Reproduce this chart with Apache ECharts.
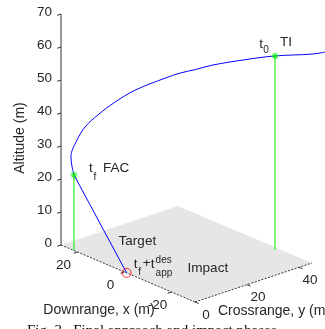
<!DOCTYPE html>
<html>
<head>
<meta charset="utf-8">
<style>
html, body { margin: 0; padding: 0; background: #fff; }
#chart { width: 325px; height: 329px; }
</style>
<script src="https://cdn.jsdelivr.net/npm/echarts@6/dist/echarts.min.js"></script>
</head>
<body>
<div id="chart"></div>
<script>
// axis limits (m)
const xRange = [-30, 27]   // downrange
const yRange = [0, 45]     // crossrange
const zRange = [0, 70]     // altitude
const xTicks = [-20, 0, 20]
const yTicks = [0, 20, 40]
const zTicks = [0, 10, 20, 30, 40, 50, 60, 70]

// trajectory samples
const trajX = [-23.4, -22.2, -15.8, -10.1, -2.8, 0.9, 4.0, 7.1, 13.2, 17.3, 20.7, 23.4, 24.6, 25.0, 23.4, 21.5]
const trajY = [56, 52, 43.6, 38, 31.5, 28, 25, 22, 16, 12, 8.5, 6, 4, 2, 1, 0]
const trajZ = [59.0, 59.1, 58.8, 57.5, 55.3, 53.7, 52.5, 50.8, 46.9, 43.1, 39.1, 35.3, 31.5, 26.8, 24.5, 22.9]

// events [x, y, z]
const ptTI = [-15.8, 43.6, 58.8]
const ptFAC = [21.5, 0, 22.9]
const ptImpact = [-0.9, 0, 0]

// fixed view (orthographic), screen units
const origin = [124.5, 272]
const ex = [-2.351, -1.0]
const ey = [2.6, -0.867]
const ez = [0, -3.30]
const proj = p => [
	origin[0] + ex[0] * p[0] + ey[0] * p[1] + ez[0] * p[2],
	origin[1] + ex[1] * p[0] + ey[1] * p[1] + ez[1] * p[2]
]

const FONT = 'Liberation Sans, Arial, Helvetica, sans-serif'
const TXT = '#262626'

const text = (x, y, str, size, align, valign) => ({
	type: 'text', x: x, y: y,
	style: { text: str, fill: TXT, fontSize: size, fontFamily: FONT, align: align || 'left', verticalAlign: valign || 'middle' }
})
const seg = (a, b, stroke, dash) => ({
	type: 'line',
	shape: { x1: a[0], y1: a[1], x2: b[0], y2: b[1] },
	style: { stroke: stroke, lineWidth: 1, lineDash: dash || null }
})

// annotation texts, offsets in px from the event point
const notes = [
	{ at: ptTI, dx: -14, dy: -12, t: 't', s: 13.5, a: 'center' },
	{ at: ptTI, dx: -9, dy: -6, t: '0', s: 10, a: 'center' },
	{ at: ptTI, dx: 5, dy: -14, t: 'TI', s: 13.5 },
	{ at: ptFAC, dx: 17, dy: -7, t: 't', s: 13.5, a: 'center' },
	{ at: ptFAC, dx: 21, dy: 2, t: 'f', s: 10, a: 'center' },
	{ at: ptFAC, dx: 29, dy: -7, t: 'FAC', s: 13.5 },
	{ at: ptImpact, dx: -8, dy: -32, t: 'Target', s: 13.5 },
	{ at: ptImpact, dx: 61, dy: -5, t: 'Impact', s: 13.5 },
	{ at: ptImpact, dx: 9, dy: -9, t: 't', s: 13.5, a: 'center' },
	{ at: ptImpact, dx: 13, dy: -1, t: 'f', s: 10, a: 'center' },
	{ at: ptImpact, dx: 20, dy: -10, t: '+', s: 13.5, a: 'center' },
	{ at: ptImpact, dx: 26, dy: -9, t: 't', s: 13.5, a: 'center' },
	{ at: ptImpact, dx: 29, dy: -13, t: 'des', s: 10 },
	{ at: ptImpact, dx: 29, dy: 0, t: 'app', s: 10 }
]

const chart = echarts.init(document.getElementById('chart'))

const option = {
	animation: false,
	grid: { left: 0, top: 0, width: 325, height: 329 },
	xAxis: { type: 'value', min: 0, max: 325, show: false },
	yAxis: { type: 'value', min: 0, max: 329, inverse: true, show: false },
	graphic: [
		{ type: 'text', x: 20, y: 138, rotation: Math.PI / 2, style: { text: 'Altitude (m)', fill: TXT, fontSize: 14, fontFamily: FONT, align: 'center', verticalAlign: 'middle' } },
		{ type: 'text', x: 99, y: 310, style: { text: 'Downrange, x (m)', fill: TXT, fontSize: 14, fontFamily: FONT, align: 'center', verticalAlign: 'middle' } },
		{ type: 'text', x: 218, y: 311, style: { text: 'Crossrange, y (m)', fill: TXT, fontSize: 14, fontFamily: FONT, align: 'left', verticalAlign: 'middle' } },
		{ type: 'text', x: 27, y: 324, style: { text: 'Fig. 3.  Final approach and impact phases', fill: '#111', fontSize: 15, fontFamily: 'Liberation Serif, Times New Roman, serif', align: 'left', verticalAlign: 'top' } }
	],
	series: [
		{
			// ground plane
			type: 'custom', data: [0], silent: true, z: 1,
			renderItem: (params, api) => {
				const pts = [
					[xRange[1], yRange[0], 0], [xRange[0], yRange[0], 0],
					[xRange[0], yRange[1], 0], [xRange[1], yRange[1], 0]
				].map(p => api.coord(proj(p)))
				return { type: 'polygon', shape: { points: pts }, style: { fill: '#e6e6e6' } }
			}
		},
		{
			// axes, ticks and tick labels
			type: 'custom', data: [0], silent: true, z: 2,
			renderItem: (params, api) => {
				const c = p => api.coord(proj(p))
				const kids = []
				const corner = [xRange[1], yRange[0], 0]
				kids.push(seg(c(corner), c([xRange[0], yRange[0], 0]), '#333', [2, 1.5]))
				kids.push(seg(c([xRange[0], yRange[0], 0]), c([xRange[0], yRange[1], 0]), '#333', [2, 1.5]))
				kids.push(seg(c(corner), c([xRange[1], yRange[0], zRange[1]]), '#333'))
				zTicks.forEach(v => {
					const a = c([xRange[1], yRange[0], v])
					kids.push(seg(a, c([xRange[1], yRange[0] - 1.5, v]), '#333'))
					kids.push(text(a[0] - 9, a[1] - 1.5, String(v), 13.5, 'right'))
				})
				xTicks.forEach(v => {
					const a = c([v, yRange[0], 0])
					kids.push(seg(a, c([v, yRange[0] - 1.5, 0]), '#333'))
					kids.push(text(a[0] - 14, a[1] + 13, String(v), 13.5, 'center'))
				})
				yTicks.forEach(v => {
					const a = c([xRange[0], v, 0])
					kids.push(seg(a, c([xRange[0] - 1.5, v, 0]), '#333'))
					kids.push(text(a[0] + 11, a[1] + 13, String(v), 13.5, 'center'))
				})
				return { type: 'group', children: kids }
			}
		},
		{
			// drop lines to the ground
			type: 'custom', data: [ptTI, ptFAC], silent: true, z: 3,
			renderItem: (params, api) => {
				const p = [api.value(0), api.value(1), api.value(2)]
				return seg(api.coord(proj(p)), api.coord(proj([p[0], p[1], 0])), '#00ee00')
			}
		},
		{
			type: 'line', data: trajX.map((x, i) => proj([x, trajY[i], trajZ[i]])),
			smooth: 0.35, symbol: 'none', silent: true, z: 4,
			lineStyle: { color: '#0000ff', width: 1 }
		},
		{
			type: 'line', data: [proj(ptFAC), proj(ptImpact)],
			symbol: 'none', silent: true, z: 4,
			lineStyle: { color: '#0000ff', width: 1 }
		},
		{
			// asterisk markers
			type: 'custom', data: [ptTI, ptFAC], silent: true, z: 5,
			renderItem: (params, api) => {
				const a = api.coord(proj([api.value(0), api.value(1), api.value(2)]))
				const r = 3.5, d = 2.6
				return {
					type: 'group', children: [
						seg([a[0] - r, a[1]], [a[0] + r, a[1]], '#00ee00'),
						seg([a[0], a[1] - r], [a[0], a[1] + r], '#00ee00'),
						seg([a[0] - d, a[1] - d], [a[0] + d, a[1] + d], '#00ee00'),
						seg([a[0] - d, a[1] + d], [a[0] + d, a[1] - d], '#00ee00')
					]
				}
			}
		},
		{
			type: 'scatter', data: [proj(ptImpact)], symbol: 'circle', symbolSize: 9, silent: true, z: 6,
			itemStyle: { color: 'rgba(0,0,0,0)', borderColor: '#ff0000', borderWidth: 1 }
		},
		{
			// annotations
			type: 'custom', data: [0], silent: true, z: 7,
			renderItem: (params, api) => ({
				type: 'group',
				children: notes.map(n => {
					const a = api.coord(proj(n.at))
					return text(a[0] + n.dx, a[1] + n.dy, n.t, n.s, n.a)
				})
			})
		}
	]
}

chart.setOption(option)
</script>
</body>
</html>
